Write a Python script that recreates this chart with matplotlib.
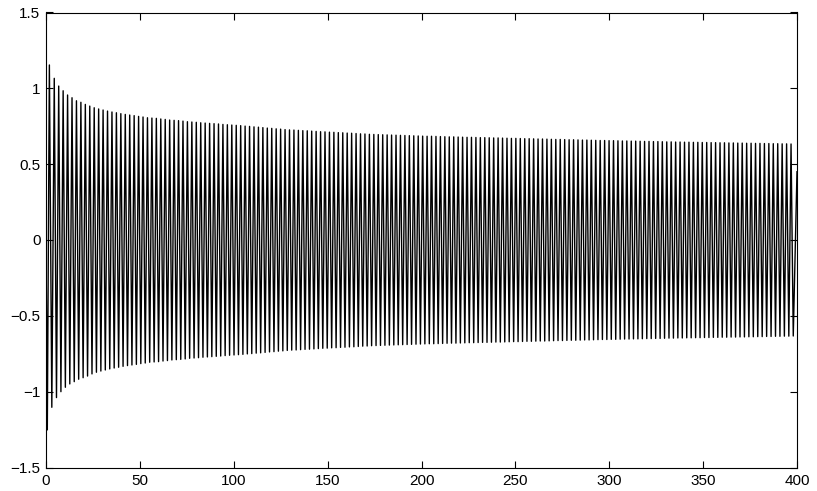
import numpy as np
import matplotlib
matplotlib.use("Agg")
import matplotlib.pyplot as plt

# ---- data ----
# upper extrema (peak values), in order of occurrence
upper_peaks = [
    1.154, 1.066, 1.015, 0.984, 0.956, 0.938, 0.918, 0.908, 0.894, 0.883,
    0.872, 0.864, 0.857, 0.850, 0.844, 0.839, 0.833, 0.828, 0.824, 0.820,
    0.815, 0.811, 0.806, 0.804, 0.802, 0.798, 0.795, 0.791, 0.789, 0.787,
    0.784, 0.780, 0.778, 0.776, 0.773, 0.771, 0.769, 0.767, 0.765, 0.762,
    0.760, 0.758, 0.756,
    0.754, 0.751, 0.749, 0.746, 0.744, 0.741, 0.738, 0.736, 0.733, 0.731,
    0.728, 0.726, 0.725, 0.723, 0.721, 0.720, 0.718, 0.716, 0.714, 0.713,
    0.711, 0.710, 0.708, 0.707, 0.705, 0.704, 0.702, 0.700, 0.699, 0.697,
    0.696, 0.695, 0.694, 0.693, 0.692, 0.691, 0.690, 0.689, 0.688, 0.687,
    0.686, 0.685, 0.684, 0.684, 0.683, 0.682, 0.681, 0.680, 0.680, 0.679,
    0.678, 0.677, 0.677, 0.676, 0.675, 0.675, 0.674, 0.673, 0.673, 0.672,
    0.671, 0.670, 0.670, 0.669, 0.668, 0.668, 0.667, 0.666, 0.666, 0.665,
    0.664, 0.663, 0.663, 0.662, 0.661, 0.661, 0.660, 0.659, 0.659, 0.658,
    0.657, 0.656, 0.656, 0.655, 0.655, 0.654, 0.653, 0.653, 0.652, 0.652,
    0.651, 0.650, 0.650, 0.649, 0.649, 0.648, 0.647, 0.647, 0.646, 0.646,
    0.645, 0.645, 0.644, 0.644, 0.643, 0.643, 0.642, 0.642, 0.641, 0.641,
    0.640, 0.640, 0.639, 0.639, 0.638, 0.638, 0.637, 0.637, 0.636, 0.636,
    0.635, 0.635, 0.634, 0.634, 0.633,
]

# lower extrema (trough values), in order of occurrence
lower_troughs = [
    -1.252, -1.103, -1.039, -1.000, -0.971, -0.949, -0.934, -0.918, -0.908, -0.897,
    -0.883, -0.872, -0.864, -0.857, -0.850, -0.844, -0.839, -0.833, -0.828, -0.824,
    -0.820, -0.815, -0.811, -0.806, -0.804, -0.802, -0.798, -0.795, -0.791, -0.789,
    -0.787, -0.784, -0.780, -0.778, -0.776, -0.773, -0.771, -0.769, -0.767, -0.765,
    -0.762, -0.760, -0.758, -0.756,
    -0.754, -0.751, -0.749, -0.746, -0.744, -0.741, -0.738, -0.736, -0.733, -0.731,
    -0.728, -0.726, -0.725, -0.723, -0.721, -0.720, -0.718, -0.716, -0.714, -0.713,
    -0.711, -0.710, -0.708, -0.707, -0.705, -0.704, -0.702, -0.700, -0.699, -0.697,
    -0.696, -0.695, -0.694, -0.693, -0.692, -0.691, -0.690, -0.689, -0.688, -0.687,
    -0.686, -0.685, -0.684, -0.684, -0.683, -0.682, -0.681, -0.680, -0.680, -0.679,
    -0.678, -0.677, -0.677, -0.676, -0.675, -0.675, -0.674, -0.673, -0.673, -0.672,
    -0.671, -0.670, -0.670, -0.669, -0.668, -0.668, -0.667, -0.666, -0.666, -0.665,
    -0.664, -0.663, -0.663, -0.662, -0.661, -0.661, -0.660, -0.659, -0.659, -0.658,
    -0.657, -0.656, -0.656, -0.655, -0.655, -0.654, -0.653, -0.653, -0.652, -0.652,
    -0.651, -0.650, -0.650, -0.649, -0.649, -0.648, -0.647, -0.647, -0.646, -0.646,
    -0.645, -0.645, -0.644, -0.644, -0.643, -0.643, -0.642, -0.642, -0.641, -0.641,
    -0.640, -0.640, -0.639, -0.639, -0.638, -0.638, -0.637, -0.637, -0.636, -0.636,
    -0.635, -0.635, -0.634, -0.634, -0.633,
]

start_point = (0.0, 0.0)
end_point = (400.0, 0.45)
first_peak_x = 1.8
first_trough_x = 0.7
second_peak_x = 4.4
period = 2.364

x_ticks = [0, 50, 100, 150, 200, 250, 300, 350, 400]
y_ticks = [-1.5, -1, -0.5, 0, 0.5, 1, 1.5]
y_tick_labels = ["\u22121.5", "\u22121", "\u22120.5", "0", "0.5", "1", "1.5"]

# ---- assemble the zig-zag trace ----
n_p = len(upper_peaks)
peak_x = np.concatenate([[first_peak_x], second_peak_x + period * np.arange(n_p - 1)])
mid_x = (peak_x[:-1] + peak_x[1:]) / 2
trough_x = np.concatenate([[first_trough_x], mid_x, [peak_x[-1] + period / 2]])

xs = [start_point[0]]
ys = [start_point[1]]
for k in range(len(trough_x)):
    xs.append(trough_x[k]); ys.append(lower_troughs[k])
    if k < n_p:
        xs.append(peak_x[k]); ys.append(upper_peaks[k])
xs.append(end_point[0]); ys.append(end_point[1])

# ---- figure ----
plt.rcParams['font.family'] = ['Liberation Sans', 'DejaVu Sans']
fig = plt.figure(figsize=(8.17, 4.91), dpi=100)
ax = fig.add_axes([46/817, 1 - 467.5/491, (797-46)/817, (467.5-12.5)/491])
ax.plot(xs, ys, color='black', linewidth=1.0)
ax.set_xlim(0, 400)
ax.set_ylim(-1.5, 1.5)
ax.set_xticks(x_ticks)
ax.set_xticklabels([str(v) for v in x_ticks])
ax.set_yticks(y_ticks)
ax.set_yticklabels(y_tick_labels)
ax.tick_params(direction='in', length=5, width=0.8, top=True, right=True,
               labelsize=11, colors='black')
ax.tick_params(axis='y', pad=4)
ax.tick_params(axis='x', pad=5)
for s in ax.spines.values():
    s.set_linewidth(0.8)
fig.savefig("out.png", dpi=100)
